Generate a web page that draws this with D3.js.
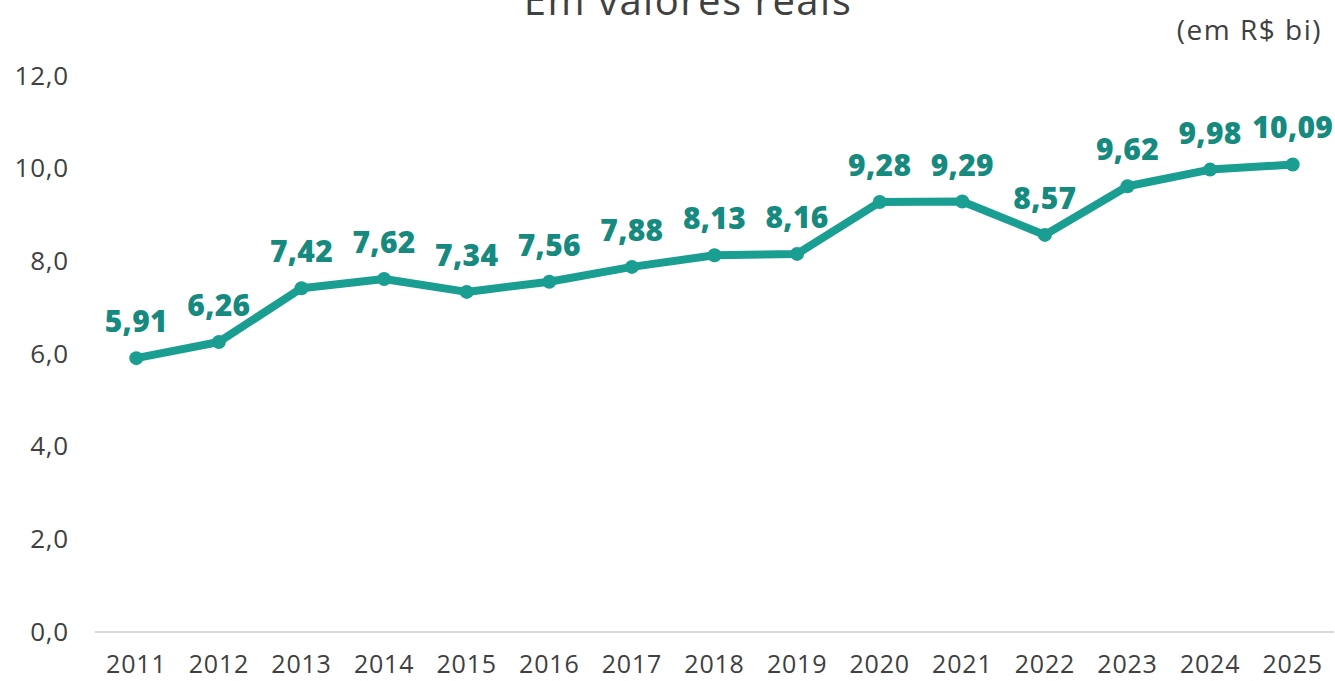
<!DOCTYPE html>
<html>
<head>
<meta charset="utf-8">
<script src="https://cdn.jsdelivr.net/npm/d3@7"></script>
<style>
  body { margin: 0; background: #fff; }
  svg { display: block; font-family: 'Open Sans', sans-serif; }
</style>
</head>
<body>
<div id="chart"></div>
<script>
var years = ['2011', '2012', '2013', '2014', '2015', '2016', '2017', '2018', '2019', '2020', '2021', '2022', '2023', '2024', '2025'];
var values = [5.91, 6.26, 7.42, 7.62, 7.34, 7.56, 7.88, 8.13, 8.16, 9.28, 9.29, 8.57, 9.62, 9.98, 10.09];
var yTicks = [0, 2, 4, 6, 8, 10, 12];

var W = 1335, H = 681;
var svg = d3.select('#chart').append('svg')
    .attr('width', W)
    .attr('height', H);

var x = d3.scaleBand().domain(years).range([95, 1334]),
    y = d3.scaleLinear().domain([0, 12]).range([632, 76]);

var fmt = function(v, n) { return v.toFixed(n).replace('.', ','); };

// title, cut off at top like the original
svg.append('text')
    .attr('x', 688).attr('y', 15)
    .attr('text-anchor', 'middle')
    .attr('font-size', 40)
    .attr('letter-spacing', 1.5)
    .attr('fill', '#404040')
    .text('Em valores reais');

svg.append('text')
    .attr('x', 1322).attr('y', 40)
    .attr('text-anchor', 'end')
    .attr('font-size', 28)
    .attr('letter-spacing', 1.5)
    .attr('fill', '#404040')
    .text('(em R$ bi)');

// y axis labels
var yAxis = svg.append('g')
    .attr('transform', 'translate(69,0)')
    .call(d3.axisLeft(y).tickValues(yTicks).tickSize(0).tickPadding(0)
        .tickFormat(function(d) { return fmt(d, 1); }));
yAxis.select('.domain').remove();
yAxis.selectAll('text')
    .attr('font-size', 26)
    .attr('letter-spacing', 0.8)
    .attr('font-family', "'Open Sans', sans-serif")
    .attr('fill', '#404040');

// baseline
svg.append('line')
    .attr('x1', 95).attr('x2', 1334)
    .attr('y1', y(0)).attr('y2', y(0))
    .attr('stroke', '#d9d9d9')
    .attr('stroke-width', 2);

// x axis labels
var xAxis = svg.append('g')
    .attr('transform', 'translate(0,' + y(0) + ')')
    .call(d3.axisBottom(x).tickSize(0).tickPadding(23));
xAxis.select('.domain').remove();
xAxis.selectAll('text')
    .attr('font-size', 25)
    .attr('letter-spacing', 0.8)
    .attr('font-family', "'Open Sans', sans-serif")
    .attr('fill', '#404040');

var cx = function(d, i) { return x(years[i]) + x.bandwidth() / 2; };

var line = d3.line()
    .x(function(d, i) { return cx(d, i); })
    .y(function(d) { return y(d); });

svg.append('path')
    .datum(values)
    .attr('d', line)
    .attr('fill', 'none')
    .attr('stroke', '#1a9e92')
    .attr('stroke-width', 8)
    .attr('stroke-linejoin', 'round');

svg.selectAll('.dot')
    .data(values)
    .enter().append('circle')
    .attr('class', 'dot')
    .attr('cx', cx)
    .attr('cy', function(d) { return y(d); })
    .attr('r', 7)
    .attr('fill', '#1a9e92');

svg.selectAll('.lbl')
    .data(values)
    .enter().append('text')
    .attr('class', 'lbl')
    .attr('x', cx)
    .attr('y', function(d) { return y(d) - 26; })
    .attr('text-anchor', 'middle')
    .attr('font-size', 30)
    .attr('font-weight', 800)
    .attr('letter-spacing', 0.3)
    .attr('fill', '#178a7f')
    .text(function(d) { return fmt(d, 2); });
</script>
</body>
</html>
